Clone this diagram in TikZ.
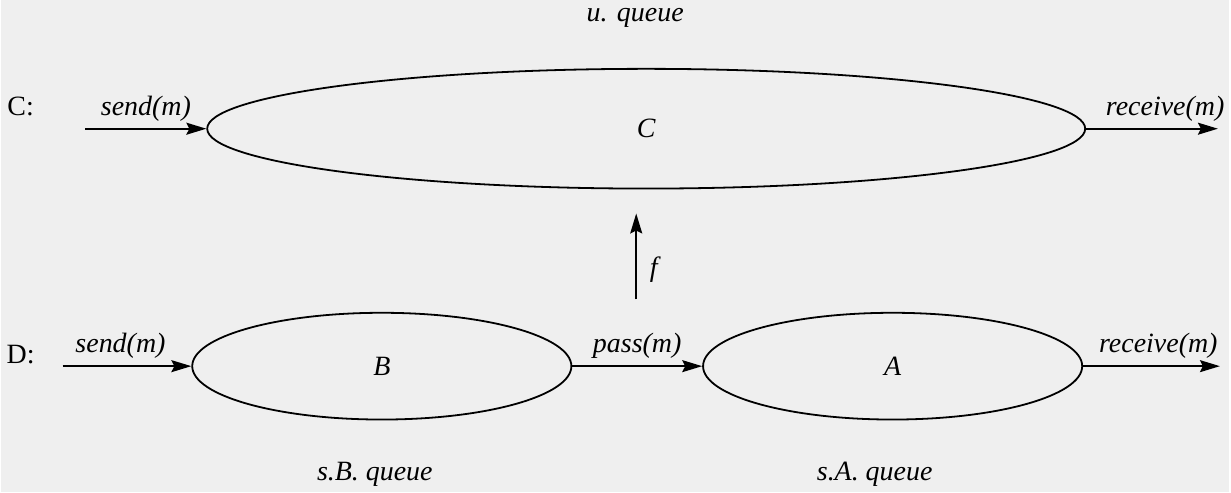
\documentclass[tikz,border=0pt]{standalone}
\usepackage{fontspec}
\setmainfont{Liberation Serif}
\usetikzlibrary{positioning,shapes.geometric,arrows.meta}
\definecolor{PageGrey}{HTML}{EFEFEF}
\begin{document}
\begin{tikzpicture}[x=0.5pt,y=-0.5pt,>={Stealth[length=10pt,width=6pt,inset=1.5pt]},line width=0.9pt]
  \tikzstyle{queue}=[draw,ellipse,inner sep=0pt,font=\itshape\fontsize{14}{16}\selectfont]
  \tikzstyle{lbl}=[font=\itshape\fontsize{14}{16}\selectfont]
  \tikzstyle{row}=[font=\fontsize{14}{16}\selectfont]
  \fill[PageGrey] (0,0) rectangle (1231,493);
  % upper level
  \node[queue,minimum width=440pt,minimum height=60pt] (C) at (647,129) {C};
  \node[row] (clab) at (20,107) {C:};
  \node[lbl] (cq) at (636,18) {u. queue};
  \coordinate (cin) at (85,129);
  \coordinate (cout) at (1220,129);
  \draw[->] (cin) -- node[lbl,above] {send(m)} (C.west);
  \draw[->] (C.east) -- node[lbl,above,pos=0.6] {receive(m)} (cout);
  % lower level
  \node[queue,minimum width=190pt,minimum height=53.5pt] (B) at (382,367) {B};
  \node[queue,minimum width=190pt,minimum height=53.5pt] (A) at (894,367) {A};
  \node[row] (dlab) at (20,355) {D:};
  \node[lbl] (bq) at (375,475) {s.B. queue};
  \node[lbl] (aq) at (876,475) {s.A. queue};
  \coordinate (din) at (62,367);
  \coordinate (dout) at (1222,367);
  \draw[->] (din) -- node[lbl,above,pos=0.45] {send(m)} (B.west);
  \draw[->] (B.east) -- node[lbl,above] {pass(m)} (A.west);
  \draw[->] (A.east) -- node[lbl,above,pos=0.55] {receive(m)} (dout);
  % mapping
  \coordinate (fbot) at (637,300);
  \coordinate (ftop) at (637,214);
  \draw[->] (fbot) -- node[lbl,right=3pt,pos=0.35] {f} (ftop);
\end{tikzpicture}
\end{document}
